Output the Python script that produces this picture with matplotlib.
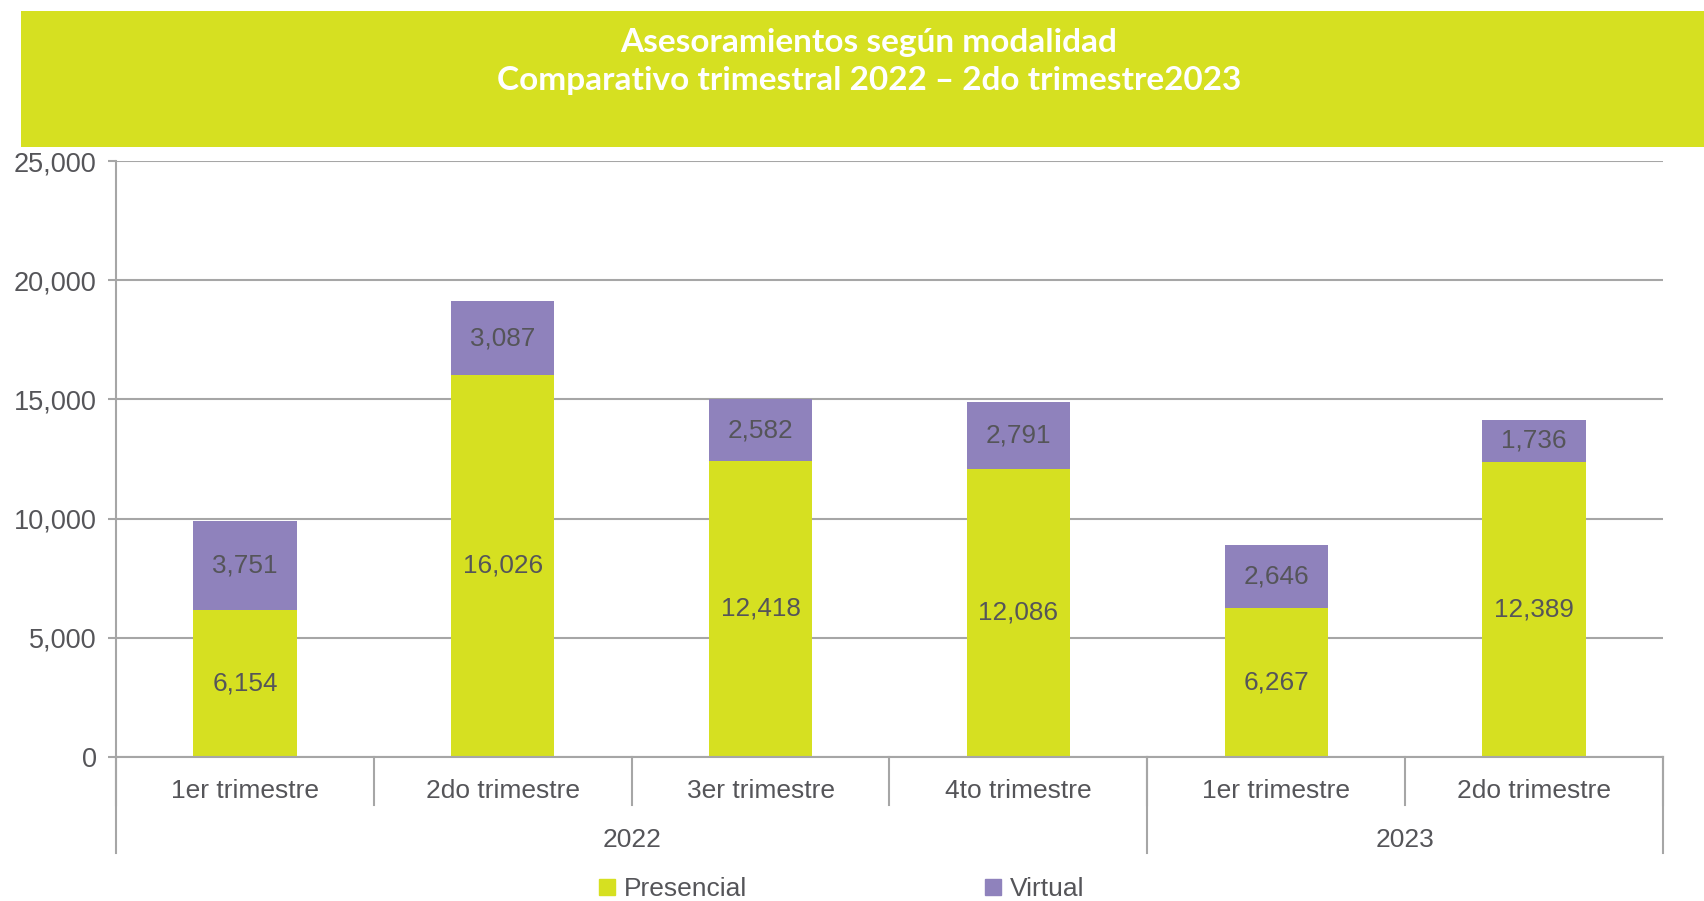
import matplotlib.pyplot as plt
from matplotlib.patches import Rectangle, Patch
from matplotlib.ticker import FuncFormatter
import matplotlib.transforms as mtransforms

quarters = ['1er trimestre', '2do trimestre', '3er trimestre', '4to trimestre',
            '1er trimestre', '2do trimestre']
years = ['2022', '2023']
year_sizes = [4, 2]
presencial = [6154, 16026, 12418, 12086, 6267, 12389]
virtual = [3751, 3087, 2582, 2791, 2646, 1736]

GREEN = '#D6E021'
PURPLE = '#8F82BC'
TXT = '#555559'
GRID = '#A6A6A6'

plt.rcParams['font.family'] = ['Liberation Sans', 'DejaVu Sans']

fig = plt.figure(figsize=(17.04, 9.01), dpi=100)

# title banner
fig.patches.append(Rectangle((0.0123, 0.8368), 0.9877, 0.151, transform=fig.transFigure,
                             facecolor=GREEN, edgecolor='none', zorder=0))
fig.text(0.510, 0.953, 'Asesoramientos según modalidad', ha='center', va='center',
         color='white', fontsize=24, fontweight='bold', family=['Lato', 'DejaVu Sans'])
fig.text(0.510, 0.911, 'Comparativo trimestral 2022 – 2do trimestre2023', ha='center', va='center',
         color='white', fontsize=24, fontweight='bold', family=['Lato', 'DejaVu Sans'])

ax = fig.add_axes([0.0681, 0.1598, 0.9078, 0.6615])
x = list(range(len(quarters)))
w = 0.4
b1 = ax.bar(x, presencial, w, color=GREEN, label='Presencial', zorder=2)
b2 = ax.bar(x, virtual, w, bottom=presencial, color=PURPLE, label='Virtual', zorder=2)
for bars, vals in ((b1, presencial), (b2, virtual)):
    ax.bar_label(bars, labels=[f'{v:,}' for v in vals], label_type='center',
                 color=TXT, fontsize=18.8)

ax.set_xlim(-0.5, len(quarters) - 0.5)
ax.set_ylim(0, 25000)
ax.set_yticks(range(0, 25001, 5000))
ax.yaxis.set_major_formatter(FuncFormatter(lambda v, p: f'{int(v):,}'))
ax.yaxis.grid(True, color=GRID, linewidth=1.5, zorder=0)
ax.set_axisbelow(True)
for s in ('top', 'right'):
    ax.spines[s].set_visible(False)
ax.spines['left'].set_color(GRID)
ax.spines['bottom'].set_color(GRID)
ax.spines['left'].set_linewidth(1.5)
ax.spines['bottom'].set_linewidth(1.5)
ax.tick_params(axis='y', length=6, width=1.5, color=GRID, labelsize=19.5, labelcolor=TXT, pad=8)

# two-level category axis
ax.set_xticks(x)
ax.set_xticklabels(quarters)
ax.tick_params(axis='x', length=0, labelsize=19, labelcolor=TXT, pad=16)
trans = mtransforms.blended_transform_factory(ax.transData, ax.transAxes)
for i in range(len(quarters) + 1):
    ax.plot([i - 0.5, i - 0.5], [0, -0.0805], transform=trans, color=GRID, lw=1.5, clip_on=False)
start = 0
for yr, n in zip(years, year_sizes):
    ax.text(start + n / 2 - 0.5, -0.139, yr, transform=trans, ha='center', va='center',
            fontsize=19, color=TXT)
    ax.plot([start - 0.5, start - 0.5], [0, -0.161], transform=trans, color=GRID, lw=1.5, clip_on=False)
    start += n
ax.plot([start - 0.5, start - 0.5], [0, -0.161], transform=trans, color=GRID, lw=1.5, clip_on=False)

handles = [Patch(color=GREEN, label='Presencial'), Patch(color=PURPLE, label='Virtual')]
fig.legend(handles=handles, loc='center', bbox_to_anchor=(0.494, 0.013), ncol=2, frameon=False,
           fontsize=19, labelcolor=TXT, handlelength=0.6, handleheight=0.6, handletextpad=0.35,
           columnspacing=9.0, borderpad=0)

fig.savefig('out.png', dpi=100)
